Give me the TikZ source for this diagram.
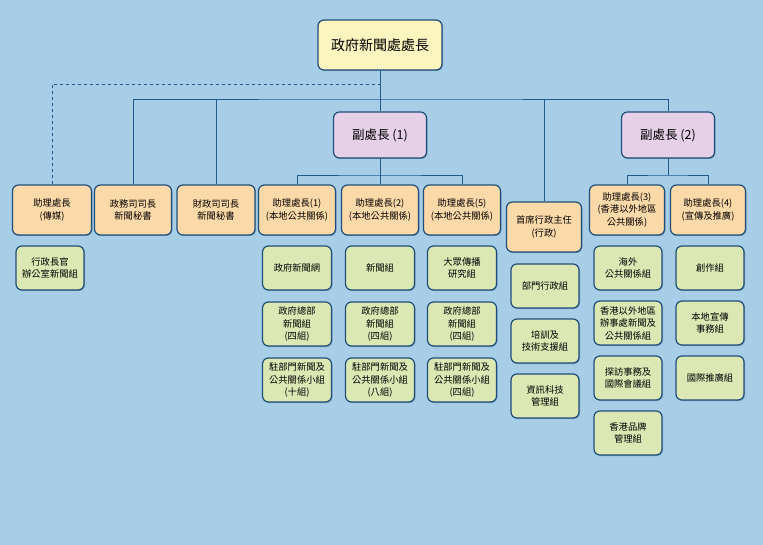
\documentclass[tikz,border=0pt]{standalone}
\usepackage{fontspec}
\setmainfont{Noto Sans CJK TC}
\usetikzlibrary{shadows}
\definecolor{bg}{HTML}{A8CDE6}
\definecolor{ln}{HTML}{1F5A8A}
\definecolor{bd}{HTML}{1E4E7A}
\definecolor{org}{HTML}{FCD9A8}
\definecolor{grn}{HTML}{DCE8B4}
\definecolor{pur}{HTML}{E6D0E8}
\definecolor{yel}{HTML}{FDF5C0}
\begin{document}
\begin{tikzpicture}[x=1pt,y=-1pt,
 box/.style={draw=bd,line width=1.2pt,rounded corners=6pt,align=center,inner sep=0pt,font=\fontsize{9.3}{12.5}\selectfont,drop shadow={shadow xshift=1pt,shadow yshift=-1pt,fill=bd!70,opacity=.6}},
 ob/.style={box,fill=org,minimum width=77pt,minimum height=50pt},
 gb/.style={box,fill=grn,minimum width=69pt,minimum height=44pt},
 conn/.style={draw=ln,line width=0.9pt}]
\fill[bg] (0,0) rectangle (763,545);
\useasboundingbox (0,0) rectangle (763,545);
\node[box,fill=yel,minimum width=124pt,minimum height=50pt,font=\fontsize{14}{16}\selectfont] (top) at (380,45) {政府新聞處處長};
\node[box,fill=pur,minimum width=93pt,minimum height=46pt,font=\fontsize{12.5}{14}\selectfont] (d1) at (380,135) {副處長 (1)};
\node[box,fill=pur,minimum width=93pt,minimum height=46pt,font=\fontsize{12.5}{14}\selectfont] (d2) at (668,135) {副處長 (2)};
\node[ob,minimum width=79pt] (a0) at (52,210) {助理處長\\(傳媒)};
\node[ob] (s1) at (133,210) {政務司司長\\新聞秘書};
\node[ob,minimum width=78pt] (s2) at (216,210) {財政司司長\\新聞秘書};
\node[ob] (a1) at (297,210) {助理處長(1)\\(本地公共關係)};
\node[ob] (a2) at (380,210) {助理處長(2)\\(本地公共關係)};
\node[ob] (a5) at (462,210) {助理處長(5)\\(本地公共關係)};
\node[ob,minimum width=75pt] (ce) at (544,227) {首席行政主任\\(行政)};
\node[ob,minimum width=75pt] (a3) at (627,210) {助理處長(3)\\(香港以外地區\\公共關係)};
\node[ob,minimum width=75pt] (a4) at (708,210) {助理處長(4)\\(宣傳及推廣)};
\node[gb,minimum width=68pt] (g0) at (50,268) {行政長官\\辦公室新聞組};
\node[gb] (b11) at (297,268) {政府新聞網};
\node[gb] (b12) at (297,324) {政府總部\\新聞組\\(四組)};
\node[gb] (b13) at (297,380) {駐部門新聞及\\公共關係小組\\(十組)};
\node[gb] (b21) at (380,268) {新聞組};
\node[gb] (b22) at (380,324) {政府總部\\新聞組\\(四組)};
\node[gb] (b23) at (380,380) {駐部門新聞及\\公共關係小組\\(八組)};
\node[gb] (b51) at (462,268) {大眾傳播\\研究組};
\node[gb] (b52) at (462,324) {政府總部\\新聞組\\(四組)};
\node[gb] (b53) at (462,380) {駐部門新聞及\\公共關係小組\\(四組)};
\node[gb,minimum width=68pt] (c1) at (545,286) {部門行政組};
\node[gb,minimum width=68pt] (c2) at (545,341) {培訓及\\技術支援組};
\node[gb,minimum width=68pt] (c3) at (545,396) {資訊科技\\管理組};
\node[gb,minimum width=68pt] (e1) at (628,268) {海外\\公共關係組};
\node[gb,minimum width=68pt] (e2) at (628,323) {香港以外地區\\辦事處新聞及\\公共關係組};
\node[gb,minimum width=68pt] (e3) at (628,378) {探訪事務及\\國際會議組};
\node[gb,minimum width=68pt] (e4) at (628,433) {香港品牌\\管理組};
\node[gb,minimum width=68pt] (f1) at (710,268) {創作組};
\node[gb,minimum width=68pt] (f2) at (710,323) {本地宣傳\\事務組};
\node[gb,minimum width=68pt] (f3) at (710,378) {國際推廣組};
\coordinate (h) at (380,99);
\draw[conn] (top.south) -- (d1.north);
\draw[conn] (s1.north) |- (h) -| (d2.north);
\draw[conn] (s2.north) -- (s2.north |- h);
\draw[conn] (ce.north) -- (ce.north |- h);
\draw[conn,dashed] (a0.north) |- (380,84);
\coordinate (h1) at (380,175);
\draw[conn] (a1.north) |- (h1) -| (a5.north);
\draw[conn] (d1.south) -- (a2.north);
\coordinate (h2) at (668,175);
\draw[conn] (a3.north) |- (h2) -| (a4.north);
\draw[conn] (d2.south) -- (h2);
\end{tikzpicture}
\end{document}
